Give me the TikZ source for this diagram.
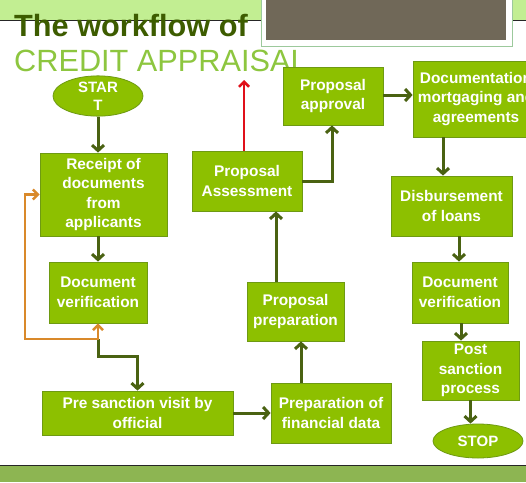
\documentclass[tikz,border=0pt]{standalone}
\usepackage{fontspec}
\setmainfont{Liberation Sans}
\usetikzlibrary{arrows.meta,shapes.geometric,calc}
\definecolor{boxfill}{HTML}{8DC000}
\definecolor{boxline}{HTML}{6E9A12}
\definecolor{arrgreen}{HTML}{4A6212}
\definecolor{loopor}{HTML}{D9892A}
\definecolor{redar}{HTML}{E0101A}
\definecolor{titledark}{HTML}{3D5C00}
\definecolor{titlelight}{HTML}{8DC63F}
\definecolor{topband}{HTML}{C2EE92}
\definecolor{brownbox}{HTML}{706858}
\definecolor{botband}{HTML}{8DB552}
\tikzset{
  stepbox/.style={draw=boxline, line width=0.8pt, fill=boxfill, text=white,
    font=\bfseries\fontsize{15.4}{19.5}\selectfont, align=center, inner sep=1pt},
  termnode/.style={ellipse, draw=boxline, line width=0.8pt, fill=boxfill, text=white,
    font=\bfseries\fontsize{15}{18}\selectfont, align=center, inner sep=0pt},
  flow/.style={draw=arrgreen, line width=3pt, -{Straight Barb[length=5.5pt,width=12pt]}},
  loopflow/.style={draw=loopor, line width=2.5pt, {Straight Barb[length=5pt,width=10pt]}-{Straight Barb[length=5pt,width=10pt]}},
  redflow/.style={draw=redar, line width=2.5pt, -{Straight Barb[length=5pt,width=10pt]}},
}
\begin{document}
\begin{tikzpicture}[x=1pt,y=-1pt]
\useasboundingbox (0,0) rectangle (526,482);
\clip (0,0) rectangle (526,482);
% background
\fill[white] (0,0) rectangle (526,482);
\fill[topband] (0,0) rectangle (526,20);
\draw[black!85, line width=0.8pt] (0,20) -- (526,20);
\fill[white, draw=green!30!gray!60, line width=0.6pt] (261,-2) rectangle (512,46);
\fill[brownbox] (266,-2) rectangle (506,40);
\fill[botband] (0,465) rectangle (526,482);
\draw[black!85, line width=1pt] (0,465) -- (526,465);
% titles
\node[anchor=base west, inner sep=0pt, text=titledark, font=\bfseries\fontsize{30.7}{32}\selectfont] (t1) at (14,36) {The workflow of};
\node[anchor=base west, inner sep=0pt, text=titlelight, font=\fontsize{30.7}{32}\selectfont] (t2) at (14,71) {CREDIT APPRAISAL};
% nodes
\node[termnode, minimum width=90pt, minimum height=32pt] (start) at (98,96) {STAR\\T};
\node[stepbox, minimum width=127pt, minimum height=83pt] (rec) at (103.5,194.5) {Receipt of\\documents\\from\\applicants};
\node[stepbox, minimum width=98pt, minimum height=61pt] (dv1) at (98,292.5) {Document\\verification};
\node[stepbox, minimum width=191pt, minimum height=44pt] (pre) at (137.5,413) {Pre sanction visit by\\official};
\node[stepbox, minimum width=120pt, minimum height=60pt] (fin) at (331,413) {Preparation of\\financial data};
\node[stepbox, minimum width=97pt, minimum height=59pt] (pp) at (295.5,311.5) {Proposal\\preparation};
\node[stepbox, minimum width=110pt, minimum height=60pt] (pa) at (247,181) {Proposal\\Assessment};
\node[stepbox, minimum width=100pt, minimum height=58pt] (ap) at (333,96) {Proposal\\approval};
\node[stepbox, minimum width=126pt, minimum height=76pt] (doc) at (476,99) {Documentation\\mortgaging and\\agreements};
\node[stepbox, minimum width=121pt, minimum height=60pt] (dis) at (451.5,206) {Disbursement\\of loans};
\node[stepbox, minimum width=96pt, minimum height=61pt] (dv2) at (460,292.5) {Document\\verification};
\node[stepbox, minimum width=97pt, minimum height=59pt] (post) at (470.5,370.5) {Post\\sanction\\process};
\node[termnode, minimum width=90pt, minimum height=34pt] (stop) at (478,441) {STOP};
% connectors
\coordinate (lp) at (25,339);
\coordinate (redtip) at (244,80);
\draw[flow] (start.south) -- (start.south |- rec.north);
\draw[flow] (rec.south -| dv1.north) -- (dv1.north);
\draw[flow] (dv1.south |- lp) -- ++(0,17) -| (pre.north);
\draw[loopflow] (dv1.south) |- (lp) |- (rec.west);
\draw[flow] (pre.east) -- (fin.west);
\draw[flow] ([xshift=-30pt]fin.north) -- ([xshift=-30pt]fin.north |- pp.south);
\draw[flow] ([xshift=-19.5pt]pp.north) -- ([xshift=-19.5pt]pp.north |- pa.south);
\draw[flow] (pa.east) -| ([xshift=-1pt]ap.south);
\draw[redflow] (pa.north -| redtip) -- (redtip);
\draw[flow] ([yshift=1pt]ap.east) -- ([yshift=1pt]ap.east -| doc.west);
\draw[flow] ([xshift=-33pt]doc.south) -- ([xshift=-33pt]doc.south |- dis.north);
\draw[flow] ([xshift=7.5pt]dis.south) -- ([xshift=7.5pt]dis.south |- dv2.north);
\draw[flow] ([xshift=1pt]dv2.south) -- ([xshift=1pt]dv2.south |- post.north);
\draw[flow] (post.south) -- (post.south |- stop.north);
\end{tikzpicture}
\end{document}
